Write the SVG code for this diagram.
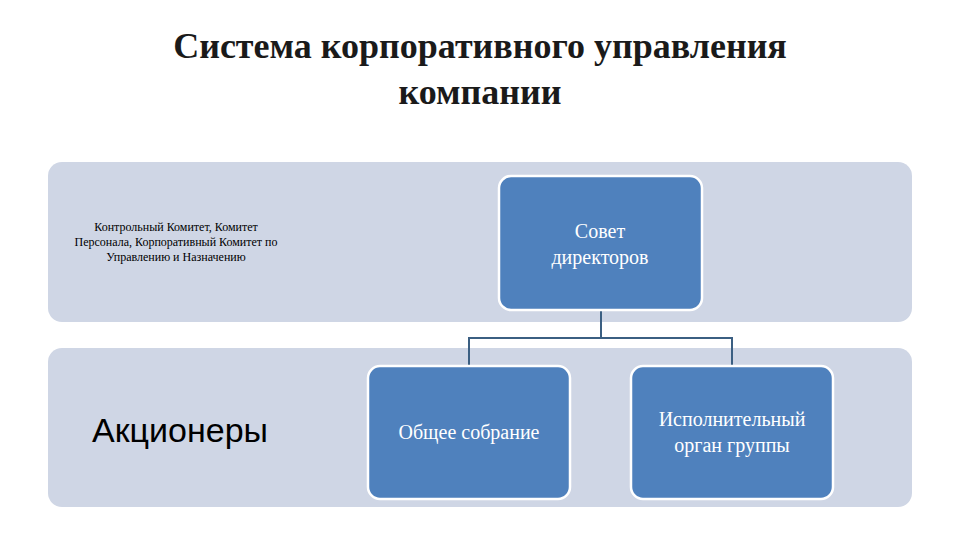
<svg xmlns="http://www.w3.org/2000/svg" width="960" height="540" viewBox="0 0 960 540">
<style>
.band{fill:#cfd6e5}
.box{fill:#4f81bd;stroke:#fff;stroke-width:2.5}
.wt{fill:#fff;font-family:"Liberation Serif",serif;font-size:20px;text-anchor:middle}
.conn{stroke:#3b5f82;stroke-width:2;fill:none}
</style>
<rect width="960" height="540" fill="#fff"/>
<text x="480" y="58" font-family="Liberation Serif,serif" font-size="36" font-weight="bold" text-anchor="middle" fill="#1a1a1a">Система корпоративного управления</text>
<text x="480" y="104" font-family="Liberation Serif,serif" font-size="36" font-weight="bold" text-anchor="middle" fill="#1a1a1a">компании</text>
<g id="band1"><rect class="band" x="48" y="162" width="864" height="160" rx="14"/>
<text font-family="Liberation Serif,serif" font-size="12" text-anchor="middle" fill="#000"><tspan x="176" y="231">Контрольный Комитет, Комитет</tspan><tspan x="176" y="246">Персонала, Корпоративный Комитет по</tspan><tspan x="176" y="261">Управлению и Назначению</tspan></text></g>
<g id="band2"><rect class="band" x="48" y="348" width="864" height="159" rx="14"/>
<text x="180" y="442" font-family="Liberation Sans,sans-serif" font-size="34" text-anchor="middle" fill="#000">Акционеры</text></g>
<g id="connectors"><path class="conn" d="M601 310V338M469 366V338H732V366"/></g>
<g id="sovet"><rect class="box" x="499" y="176" width="203" height="134" rx="12"/>
<text class="wt"><tspan x="600" y="238">Совет</tspan><tspan x="600" y="264">директоров</tspan></text></g>
<g id="obshee"><rect class="box" x="368" y="366" width="202" height="133" rx="12"/>
<text class="wt" x="469" y="439">Общее собрание</text></g>
<g id="ispoln"><rect class="box" x="631" y="366" width="202" height="133" rx="12"/>
<text class="wt"><tspan x="732" y="426">Исполнительный</tspan><tspan x="732" y="452">орган группы</tspan></text></g>
</svg>
